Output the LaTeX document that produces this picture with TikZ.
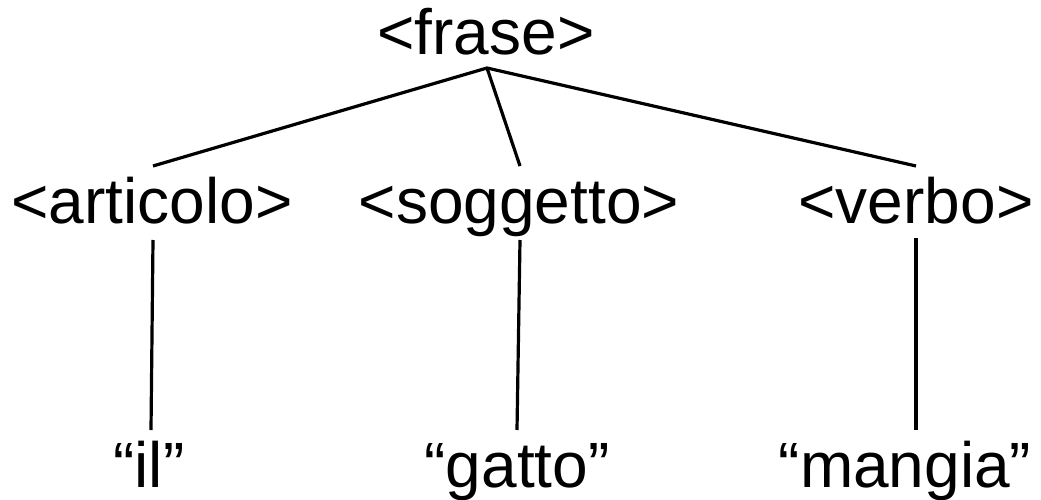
\documentclass[tikz,border=0pt]{standalone}
\usepackage{fontspec}
\setmainfont{Liberation Sans}
\begin{document}
\begin{tikzpicture}[x=1pt,y=-1pt,
  lbl/.style={anchor=base,inner sep=0pt,font=\fontsize{64}{70}\selectfont},
  edge/.style={line width=3.2pt}]
\useasboundingbox (0,0) rectangle (1041,500);
\node[lbl] (frase) at (486,55) {<frase>};
\node[lbl] (art) at (152,223) {<articolo>};
\node[lbl] (sog) at (519,223) {<soggetto>};
\node[lbl] (verb) at (916,223) {<verbo>};
\node[lbl] (il) at (149,487) {“il”};
\node[lbl] (gatto) at (517,487) {“gatto”};
\node[lbl] (mangia) at (905,487) {“mangia”};
\coordinate (fT) at (487,68);
\coordinate (aT) at (153,166);
\coordinate (sT) at (520,166);
\coordinate (vT) at (916,166);
\coordinate (aB) at (153,240);
\coordinate (sB) at (520,240);
\coordinate (vB) at (916,238);
\coordinate (ilT) at (151,430);
\coordinate (gT) at (517,430);
\coordinate (mT) at (916,430);
\draw[edge] (aT) -- (fT) -- (vT);
\draw[edge] (fT) -- (sT);
\draw[edge] (aB) -- (ilT);
\draw[edge] (sB) -- (gT);
\draw[edge] (vB) -- (mT);
\end{tikzpicture}
\end{document}
